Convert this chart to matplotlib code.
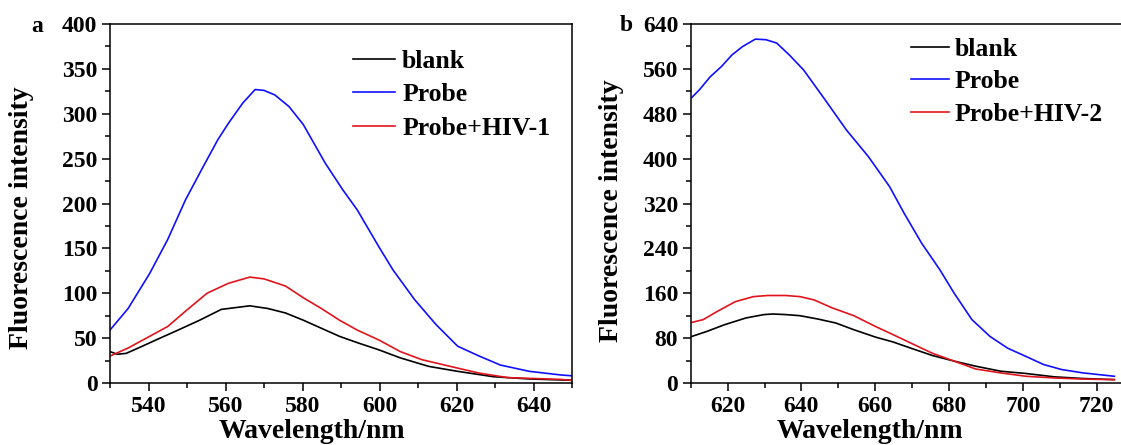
import numpy as np
import matplotlib
matplotlib.use("Agg")
import matplotlib.pyplot as plt
from matplotlib.ticker import MultipleLocator

plt.rcParams["font.family"] = ["Liberation Serif", "DejaVu Serif"]
plt.rcParams["font.weight"] = "bold"
plt.rcParams["lines.solid_joinstyle"] = "round"

# panel a: HIV-1 probe, emission spectra
wl_a_probe = [530, 534.7, 540.3, 545, 549.6, 554.2, 558, 560.7, 564.5, 567.7, 570, 572.8,
              576.5, 580.2, 585.9, 590.5, 594.2, 599.8, 603.5, 609.1, 614.7, 620.3,
              625.9, 631.4, 638.9, 647, 650]
a_probe = [59, 83, 122, 160, 204, 241, 271, 289, 312, 327, 326, 321,
           308, 288, 245, 215, 193, 152, 126, 93, 65, 41,
           30, 20, 13, 9, 8]

wl_a_hiv = [530, 534.7, 540.3, 545, 549.6, 555.2, 560.7, 566.3, 570, 575.6, 580.2, 584.9,
            589.6, 594.2, 599.8, 605.4, 611, 618.4, 625.9, 633.3, 647, 650]
a_hiv = [30, 39, 52, 63, 80, 100, 111, 118, 116, 108, 95, 83,
         70, 59, 48, 35, 26, 18.5, 11, 6, 4, 3]

wl_a_blank = [530, 531.9, 534.2, 538.4, 543, 547.7, 553.3, 558.9, 566.3, 571, 575.6, 580.2,
              584.9, 589.6, 594.2, 599.8, 605.4, 612.8, 620.3, 629.6, 638.9, 650]
a_blank = [35, 32, 33, 41, 50, 59, 70, 82, 86, 83, 78, 70,
           61, 52, 45, 37, 28, 18.5, 13, 7, 4.5, 3]

# panel b: HIV-2 probe
wl_b_probe = [610.3, 612.4, 615.3, 618.3, 621.2, 624.1, 627.5, 630.4, 633.3, 636.7, 640.6,
              646.4, 652.2, 658.1, 663.9, 667.8, 672.6, 677.5, 681.4, 686.2, 691.1,
              695.9, 700.8, 705.6, 710.5, 716.3, 724.8]
b_probe = [509, 523, 546, 564, 585, 600, 613, 612, 606, 585, 558,
           505, 451, 404, 350, 303, 249, 202, 160, 113, 83,
           62, 47.5, 33, 24, 18, 12]

wl_b_hiv = [610.3, 613.4, 617.3, 622.1, 627, 630.9, 635.7, 639.6, 643.5, 648.3, 654.2,
            660, 664.9, 669.7, 675.5, 681.4, 687.2, 694, 700.8, 708.5, 716.3, 724.8]
b_hiv = [108, 113, 128, 145, 154, 156, 156, 154, 148, 134, 120,
         101, 86, 71, 53, 39, 25, 18, 12, 9, 7, 6]

wl_b_blank = [610.3, 614.4, 619.2, 625, 629.9, 632.3, 635.7, 639.6, 644.5, 649.3, 654.2,
              660, 664.9, 669.7, 675.5, 681.4, 687.2, 694, 700.8, 708.5, 716.3, 724.8]
b_blank = [83, 92, 104, 116, 122, 123, 122, 120, 114, 107, 95,
           82, 73, 62, 49, 39, 30, 21, 17, 11, 8, 6]

BLACK = "black"
BLUE = "#1010ff"
RED = "#e0141c"


def style_axis(ax, xmaj, ymaj, xmin_step, ymin_step):
    ax.xaxis.set_major_locator(MultipleLocator(xmaj))
    ax.xaxis.set_minor_locator(MultipleLocator(xmin_step))
    ax.yaxis.set_major_locator(MultipleLocator(ymaj))
    ax.yaxis.set_minor_locator(MultipleLocator(ymin_step))
    ax.tick_params(which="both", direction="out", top=False, right=False, width=1.1)
    ax.tick_params(which="major", length=6, pad=3, labelsize=17)
    ax.tick_params(which="minor", length=3.5)
    for sp in ax.spines.values():
        sp.set_linewidth(1.1)
    for lab in ax.get_xticklabels() + ax.get_yticklabels():
        lab.set_fontweight("bold")


fig = plt.figure(figsize=(11.21, 4.45), dpi=100)
W, H = 1121.0, 445.0

ax_a = fig.add_axes([110 / W, 62 / H, 462 / W, 359 / H])
ax_b = fig.add_axes([690.7 / W, 62 / H, 430.3 / W, 359 / H])

lw = 1.2
ax_a.plot(wl_a_blank, a_blank, color=BLACK, lw=lw, label="blank")
ax_a.plot(wl_a_probe, a_probe, color=BLUE, lw=lw, label="Probe")
ax_a.plot(wl_a_hiv, a_hiv, color=RED, lw=lw, label="Probe+HIV-1")
ax_a.set_xlim(530, 650)
ax_a.set_ylim(0, 400)
style_axis(ax_a, 20, 50, 10, 25)

ax_b.plot(wl_b_blank, b_blank, color=BLACK, lw=lw, label="blank")
ax_b.plot(wl_b_probe, b_probe, color=BLUE, lw=lw, label="Probe")
ax_b.plot(wl_b_hiv, b_hiv, color=RED, lw=lw, label="Probe+HIV-2")
ax_b.set_xlim(610, 726.6)
ax_b.set_ylim(0, 640)
ax_b.spines["right"].set_visible(False)
style_axis(ax_b, 20, 80, 10, 40)

for ax, lx in [(ax_a, 0.437), (ax_b, 0.417)]:
    ax.set_xlabel("Wavelength/nm", fontsize=20, fontweight="bold", va="baseline")
    ax.xaxis.set_label_coords(lx, -0.152)
    ax.set_ylabel("Fluorescence intensity", fontsize=20, fontweight="bold", va="center")
ax_a.yaxis.set_label_coords(-0.191, 0.46)
ax_b.yaxis.set_label_coords(-0.183, 0.479)

leg_a = ax_a.legend(loc="upper left", bbox_to_anchor=(0.526, 0.928), frameon=False,
                    fontsize=18.5, handlelength=1.65, handletextpad=0.26,
                    labelspacing=0.41, borderpad=0, borderaxespad=0)
leg_b = ax_b.legend(loc="upper left", bbox_to_anchor=(0.511, 0.961), frameon=False,
                    fontsize=18.5, handlelength=1.5, handletextpad=0.23,
                    labelspacing=0.36, borderpad=0, borderaxespad=0)
for leg in (leg_a, leg_b):
    for line in leg.get_lines():
        line.set_linewidth(1.2)

fig.text(37 / W, 1 - 32 / H, "a", fontsize=17, fontweight="bold", ha="center", va="baseline")
fig.text(626 / W, 1 - 31 / H, "b", fontsize=17, fontweight="bold", ha="center", va="baseline")

fig.savefig("out.png", dpi=100)
